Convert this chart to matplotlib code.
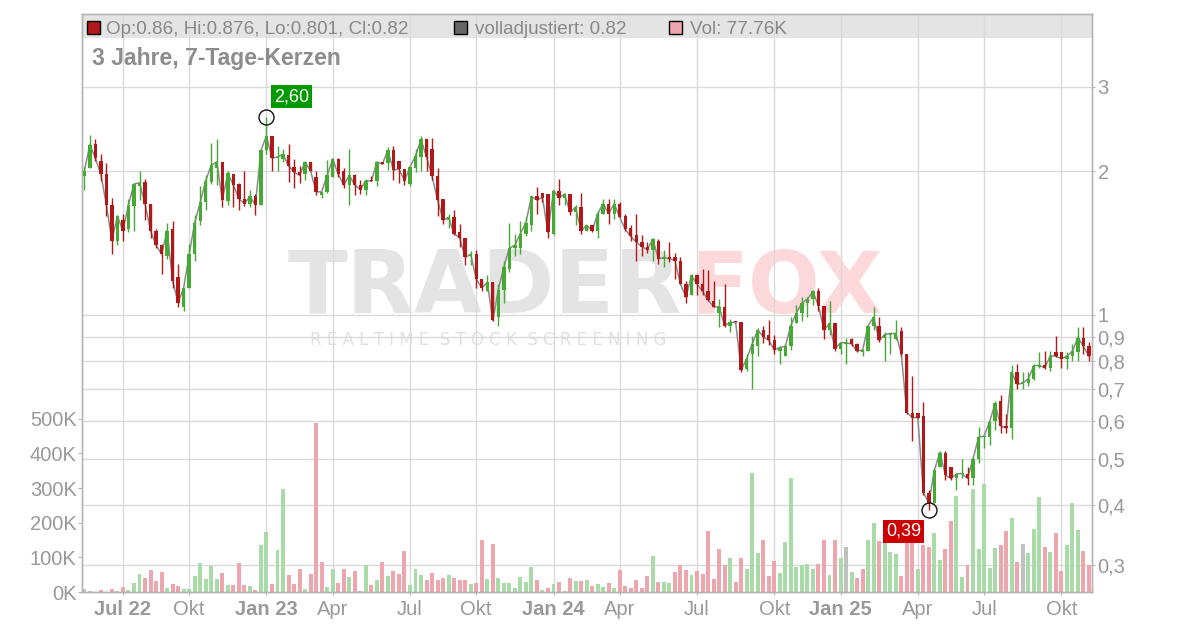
import numpy as np
import matplotlib
matplotlib.use("Agg")
import matplotlib.pyplot as plt
from matplotlib.patches import Rectangle
from matplotlib.ticker import NullLocator
from matplotlib.transforms import blended_transform_factory

plt.rcParams['font.family'] = ['Liberation Sans', 'DejaVu Sans']

# ---------------- data (weekly candles) ----------------
opens = [
    1.95, 2.03, 2.28, 2.10, 1.97, 1.70, 1.43, 1.58, 1.51, 1.69,
    1.86, 1.90, 1.71, 1.50, 1.40, 1.33, 1.51, 1.20, 1.04, 1.14,
    1.34, 1.57, 1.72, 1.90, 2.03, 2.09, 1.73, 1.97, 1.88, 1.75,
    1.71, 1.77, 1.70, 2.21, 2.37, 2.13, 2.12, 2.16, 2.04, 1.99,
    1.97, 2.09, 1.94, 1.78, 1.81, 1.94, 2.12, 2.00, 1.87, 1.96,
    1.87, 1.83, 1.92, 1.91, 2.09, 2.08, 2.21, 2.10, 2.02, 1.88,
    2.03, 2.14, 2.33, 2.23, 1.95, 1.75, 1.58, 1.60, 1.49, 1.45,
    1.33, 1.34, 1.19, 1.12, 1.17, 0.99, 1.13, 1.25, 1.38, 1.38,
    1.48, 1.54, 1.77, 1.80, 1.79, 1.48, 1.82, 1.76, 1.79, 1.64,
    1.68, 1.50, 1.54, 1.50, 1.63, 1.71, 1.63, 1.71, 1.61, 1.52,
    1.47, 1.42, 1.39, 1.37, 1.43, 1.31, 1.32, 1.32, 1.30, 1.16,
    1.10, 1.21, 1.16, 1.12, 1.07, 1.01, 1.04, 0.95, 0.97, 0.965,
    0.77, 0.83, 0.86, 0.93, 0.91, 0.885, 0.84, 0.82, 0.86, 0.96,
    1.01, 1.06, 1.08, 1.12, 1.045, 0.93, 0.96, 0.85, 0.87, 0.89,
    0.87, 0.835, 0.84, 0.95, 0.95, 0.895, 0.91, 0.89, 0.925, 0.83,
    0.625, 0.625, 0.615, 0.425, 0.405, 0.48, 0.515, 0.48, 0.455, 0.464,
    0.466, 0.455, 0.50, 0.555, 0.555, 0.60, 0.66, 0.585, 0.58, 0.76,
    0.72, 0.72, 0.735, 0.78, 0.785, 0.775, 0.835, 0.835, 0.81, 0.82,
    0.835, 0.895, 0.86,
]
highs = [
    2.04, 2.38, 2.34, 2.17, 2.08, 1.76, 1.62, 1.63, 1.75, 1.88,
    2.00, 1.93, 1.71, 1.51, 1.41, 1.56, 1.57, 1.28, 1.14, 1.41,
    1.62, 1.86, 1.96, 2.29, 2.33, 2.09, 2.00, 1.97, 1.89, 2.00,
    1.83, 1.79, 2.21, 2.60, 2.37, 2.26, 2.23, 2.28, 2.12, 2.05,
    2.09, 2.09, 2.00, 1.81, 2.11, 2.13, 2.13, 2.03, 2.23, 1.97,
    1.92, 1.93, 1.95, 2.09, 2.09, 2.25, 2.26, 2.10, 2.02, 2.05,
    2.22, 2.37, 2.34, 2.35, 2.03, 1.75, 1.63, 1.66, 1.55, 1.45,
    1.36, 1.37, 1.19, 1.21, 1.17, 1.16, 1.30, 1.56, 1.48, 1.57,
    1.60, 1.77, 1.85, 1.80, 1.79, 1.83, 1.93, 1.80, 1.79, 1.70,
    1.80, 1.54, 1.54, 1.65, 1.75, 1.75, 1.75, 1.72, 1.63, 1.54,
    1.63, 1.47, 1.42, 1.45, 1.44, 1.37, 1.42, 1.35, 1.32, 1.18,
    1.22, 1.22, 1.25, 1.24, 1.18, 1.08, 1.16, 0.98, 0.97, 0.965,
    0.83, 0.905, 0.94, 0.95, 0.975, 0.91, 0.86, 0.87, 0.99, 1.05,
    1.09, 1.09, 1.13, 1.14, 1.045, 1.07, 0.96, 0.875, 0.895, 0.895,
    0.875, 0.85, 0.95, 1.04, 0.99, 0.92, 0.915, 0.975, 0.945, 0.83,
    0.745, 0.625, 0.657, 0.43, 0.475, 0.52, 0.52, 0.48, 0.465, 0.50,
    0.48, 0.505, 0.582, 0.56, 0.60, 0.66, 0.68, 0.62, 0.785, 0.79,
    0.76, 0.76, 0.79, 0.835, 0.84, 0.84, 0.905, 0.835, 0.835, 0.87,
    0.945, 0.945, 0.876,
]
lows = [
    1.83, 2.03, 2.10, 1.91, 1.61, 1.34, 1.40, 1.43, 1.49, 1.50,
    1.74, 1.58, 1.45, 1.38, 1.22, 1.31, 1.14, 1.04, 1.02, 1.14,
    1.30, 1.54, 1.66, 1.88, 1.87, 1.68, 1.70, 1.68, 1.66, 1.69,
    1.68, 1.62, 1.70, 2.17, 2.00, 2.00, 2.09, 1.90, 1.84, 1.89,
    1.92, 2.00, 1.78, 1.76, 1.80, 1.94, 1.94, 1.84, 1.70, 1.78,
    1.79, 1.78, 1.905, 1.86, 2.07, 2.01, 1.92, 1.89, 1.87, 1.86,
    1.99, 2.00, 2.00, 1.92, 1.61, 1.55, 1.52, 1.47, 1.39, 1.27,
    1.27, 1.14, 1.12, 1.12, 0.97, 0.95, 1.06, 1.23, 1.33, 1.34,
    1.46, 1.50, 1.63, 1.72, 1.45, 1.47, 1.70, 1.70, 1.62, 1.54,
    1.48, 1.50, 1.49, 1.45, 1.63, 1.55, 1.59, 1.60, 1.50, 1.43,
    1.30, 1.33, 1.35, 1.30, 1.28, 1.26, 1.29, 1.19, 1.16, 1.06,
    1.10, 1.10, 1.10, 1.07, 1.04, 0.945, 0.945, 0.92, 0.965, 0.76,
    0.765, 0.70, 0.82, 0.875, 0.865, 0.83, 0.79, 0.82, 0.845, 0.96,
    0.97, 0.99, 1.05, 1.02, 0.89, 0.91, 0.84, 0.83, 0.79, 0.86,
    0.835, 0.82, 0.84, 0.93, 0.88, 0.80, 0.83, 0.885, 0.82, 0.62,
    0.545, 0.61, 0.42, 0.39, 0.405, 0.48, 0.452, 0.452, 0.43, 0.455,
    0.44, 0.44, 0.49, 0.527, 0.535, 0.575, 0.567, 0.567, 0.55, 0.70,
    0.70, 0.71, 0.73, 0.775, 0.77, 0.765, 0.815, 0.775, 0.77, 0.80,
    0.80, 0.83, 0.801,
]
closes = [
    2.00, 2.27, 2.13, 1.97, 1.70, 1.43, 1.61, 1.50, 1.70, 1.88,
    1.89, 1.71, 1.50, 1.40, 1.34, 1.50, 1.18, 1.06, 1.14, 1.34,
    1.56, 1.72, 1.91, 2.06, 2.09, 1.74, 1.98, 1.87, 1.75, 1.71,
    1.77, 1.70, 2.21, 2.37, 2.13, 2.14, 2.17, 2.05, 1.99, 1.96,
    2.09, 2.00, 1.81, 1.81, 1.96, 2.12, 1.97, 1.87, 1.96, 1.87,
    1.83, 1.91, 1.905, 2.09, 2.07, 2.21, 2.01, 2.02, 1.91, 2.04,
    2.15, 2.33, 2.14, 1.95, 1.74, 1.58, 1.60, 1.48, 1.45, 1.32,
    1.34, 1.19, 1.14, 1.17, 0.975, 1.13, 1.26, 1.38, 1.40, 1.48,
    1.56, 1.77, 1.74, 1.76, 1.49, 1.82, 1.76, 1.79, 1.64, 1.68,
    1.50, 1.54, 1.50, 1.63, 1.71, 1.63, 1.71, 1.60, 1.51, 1.46,
    1.42, 1.39, 1.37, 1.44, 1.31, 1.32, 1.31, 1.30, 1.16, 1.09,
    1.21, 1.16, 1.12, 1.075, 1.04, 1.04, 0.95, 0.965, 0.965, 0.767,
    0.81, 0.87, 0.93, 0.90, 0.885, 0.845, 0.855, 0.86, 0.95, 1.01,
    1.06, 1.08, 1.12, 1.045, 0.93, 0.96, 0.85, 0.875, 0.875, 0.87,
    0.84, 0.845, 0.95, 0.99, 0.885, 0.91, 0.915, 0.915, 0.83, 0.625,
    0.61, 0.61, 0.425, 0.405, 0.474, 0.515, 0.463, 0.455, 0.465, 0.466,
    0.455, 0.50, 0.555, 0.558, 0.598, 0.653, 0.586, 0.58, 0.759, 0.716,
    0.72, 0.735, 0.783, 0.785, 0.775, 0.822, 0.82, 0.81, 0.82, 0.84,
    0.897, 0.86, 0.82,
]
volumes_k = [
    8, 2, 1, 6, 1, 8, 3, 13, 6, 26,
    52, 40, 64, 32, 58, 12, 23, 17, 9, 9,
    46, 84, 38, 75, 38, 55, 20, 20, 84, 20,
    17, 6, 136, 173, 23, 121, 298, 49, 23, 66,
    9, 52, 488, 87, 14, 66, 26, 66, 43, 61,
    3, 78, 20, 35, 87, 46, 61, 52, 118, 20,
    66, 49, 35, 55, 35, 40, 49, 40, 35, 35,
    23, 26, 150, 38, 139, 40, 26, 26, 12, 43,
    29, 72, 35, 6, 12, 23, 29, 3, 40, 32,
    32, 35, 17, 23, 14, 26, 12, 64, 17, 12,
    35, 12, 46, 104, 29, 29, 26, 58, 78, 64,
    49, 61, 52, 176, 38, 124, 78, 98, 29, 98,
    66, 344, 113, 150, 46, 90, 55, 145, 329, 72,
    78, 81, 66, 81, 150, 49, 150, 98, 130, 58,
    40, 66, 150, 199, 147, 150, 116, 110, 46, 150,
    140, 66, 136, 130, 171, 92, 124, 205, 277, 43,
    78, 298, 124, 312, 69, 127, 136, 176, 214, 87,
    139, 113, 182, 275, 130, 116, 171, 61, 136, 257,
    179, 118, 77.76,
]
# volume bar colour per week: g = up, r = down, n = neutral
vol_dir = ("ngrrrrgrgg" "grrrrgrrgg" "gggggrgrrr" "grggrggrrr" "grrrggrrgr"
           "rgrgrgrrrg" "ggrrrrgrrr" "grrgrggggg" "ggrgrgrgrg" "rgrggrgrrr"
           "rrrgrggrrr" "grrrrrrgrr" "gggrrrgggg" "gggrrgrgng" "rrggrgggrr"
           "rgrrggrrgg" "rgggggrrgr" "ngggrgrrgg" "grr")

x_tick_pos = [7, 19, 33, 45, 59, 71, 85, 97, 111, 125, 137, 151, 163, 177]
x_tick_labels = ['Jul 22', 'Okt', 'Jan 23', 'Apr', 'Jul', 'Okt', 'Jan 24', 'Apr',
                 'Jul', 'Okt', 'Jan 25', 'Apr', 'Jul', 'Okt']
bold_labels = ['Jul 22', 'Jan 23', 'Jan 24', 'Jan 25']
price_ticks = [0.3, 0.4, 0.5, 0.6, 0.7, 0.8, 0.9, 1, 2, 3]
price_tick_labels = ['0,3', '0,4', '0,5', '0,6', '0,7', '0,8', '0,9', '1', '2', '3']
vol_ticks_k = [0, 100, 200, 300, 400, 500]
vol_tick_labels = ['0K', '100K', '200K', '300K', '400K', '500K']

title = "3 Jahre, 7-Tage-Kerzen"
legend_ohlc = "Op:0.86, Hi:0.876, Lo:0.801, Cl:0.82"
legend_adj = "volladjustiert: 0.82"
legend_vol = "Vol: 77.76K"

n = len(closes)
assert len(opens) == n and len(highs) == n and len(lows) == n
assert len(volumes_k) == n and len(vol_dir) == n

# ---------------- styling ----------------
W, H = 1200, 628
RED = '#b31818'
GREEN = '#44aa33'
VOL_COL = {'g': '#a9dba9', 'r': '#eea6ae', 'n': '#c0c0c0'}
GRID = '#dadada'
SPINE = '#b4b4b4'
TXT = '#999999'

fig = plt.figure(figsize=(W / 100, H / 100), dpi=100)
L, R, T, B = 82, 1092, 14, 592
ax_v = fig.add_axes([L / W, 1 - B / H, (R - L) / W, (B - T) / H])
ax_p = ax_v.twinx()

x = np.arange(n)
o = np.array(opens); hgh = np.array(highs); low = np.array(lows); c = np.array(closes)

# limits
px_per_candle = 5.52
first_px = 84.3
ax_v.set_xlim(-(first_px - L) / px_per_candle, (R - first_px) / px_per_candle)
ax_p.set_yscale('log')
ax_p.set_ylim(10 ** ((315 - B) / 478.0), 10 ** ((315 - T) / 478.0))
ax_v.set_ylim(0, (B - T) / 0.3466)

# header band
ax_v.add_patch(Rectangle((0, (B - 37.7) / (B - T)), 1, 1 - (B - 37.7) / (B - T),
                         transform=ax_v.transAxes, facecolor='#e4e4e4',
                         edgecolor='none', zorder=0.3))

# watermark
ax_v.text(288 / W, 1 - 313 / H, 'TRADER', transform=fig.transFigure, ha='left',
          va='baseline', fontsize=63, fontweight='bold', color='#e4e4e4',
          family='DejaVu Sans', zorder=0.2)
ax_v.text(690 / W, 1 - 313 / H, 'FOX', transform=fig.transFigure, ha='left',
          va='baseline', fontsize=61, fontweight='bold', color='#fdd8db',
          family='DejaVu Sans', zorder=0.2)
ax_v.text(310 / W, 1 - 345 / H, 'R E A L T I M E  S T O C K  S C R E E N I N G',
          transform=fig.transFigure, ha='left', va='baseline', fontsize=12,
          color='#e0e0e0', family='DejaVu Sans', zorder=0.2)

# grid
ax_v.set_axisbelow(True)
ax_v.set_xticks(x_tick_pos)
ax_v.grid(axis='x', color=GRID, lw=1.0, zorder=0.5)
blend = blended_transform_factory(ax_v.transAxes, ax_p.transData)
for p in price_ticks:
    ax_v.plot([0, 1], [p, p], transform=blend, color=GRID, lw=1.0, zorder=0.5)

# volume bars
ax_v.bar(x, volumes_k, width=0.72, color=[VOL_COL[d] for d in vol_dir],
         linewidth=0, zorder=2)

# close line + candles
ax_p.plot(x, c, color='#8a8a8a', lw=1.1, zorder=2)
up = c >= o
cols = np.where(up, GREEN, RED)
ax_p.vlines(x, low, hgh, colors=cols, lw=1.0, zorder=3)
b_lo = np.minimum(o, c)
b_hi = np.maximum(np.maximum(o, c), b_lo * 1.006)
ax_p.bar(x, b_hi - b_lo, bottom=b_lo, width=0.62, color=cols, linewidth=0, zorder=4)

# high / low annotations
hi_i = int(np.argmax(hgh)); lo_i = int(np.argmin(low))
for idx, val, col, off in [(hi_i, hgh[hi_i], '#009900', (25, 20)),
                           (lo_i, low[lo_i], '#cc0000', (-25, -21))]:
    ax_p.plot([idx], [val], marker='o', ms=10.8, mfc='none', mec='#111111',
              mew=1.0, zorder=6)
    ax_p.annotate(f"{val:.2f}".replace('.', ','), xy=(idx, val), xytext=off,
                  textcoords='offset pixels', ha='center', va='center',
                  color='white', fontsize=13, zorder=7,
                  bbox=dict(boxstyle='square,pad=0.17', fc=col, ec='none'))

# axes / ticks
ax_v.set_xticklabels(x_tick_labels)
for lab in ax_v.get_xticklabels():
    if lab.get_text() in bold_labels:
        lab.set_fontweight('bold')
ax_v.tick_params(axis='x', length=2.5, color=SPINE, pad=3, labelsize=14.5,
                 labelcolor=TXT)
ax_v.set_yticks(vol_ticks_k)
ax_v.set_yticklabels(vol_tick_labels)
ax_v.tick_params(axis='y', length=2.9, color=SPINE, pad=1, labelsize=14.5,
                 labelcolor=TXT)
ax_p.set_yticks(price_ticks)
ax_p.set_yticklabels(price_tick_labels)
ax_p.yaxis.set_minor_locator(NullLocator())
ax_p.tick_params(axis='y', which='major', length=2.5, color=SPINE, pad=1.5,
                 labelsize=14.5, labelcolor=TXT)
for a in (ax_v, ax_p):
    for s in a.spines.values():
        s.set_color(SPINE)
        s.set_linewidth(1.0)

# header texts
fig.text(92 / W, 1 - 59 / H, title, ha='left', va='center', fontsize=16.5,
         fontweight='bold', color='#8c8c8c')
for (x0, fc, txt, tx) in [(86.5, RED, legend_ohlc, 106.5),
                          (453.5, '#666666', legend_adj, 474.5),
                          (669.0, VOL_COL['r'], legend_vol, 690.0)]:
    fig.add_artist(Rectangle((x0 / W, 1 - 33.7 / H), 13 / W, 13 / H,
                             transform=fig.transFigure, facecolor=fc,
                             edgecolor='black', lw=1.0))
    fig.text(tx / W, 1 - 33.5 / H, txt, ha='left', va='baseline', fontsize=13.6,
             color='#888888')

fig.savefig('out.png', dpi=100)
